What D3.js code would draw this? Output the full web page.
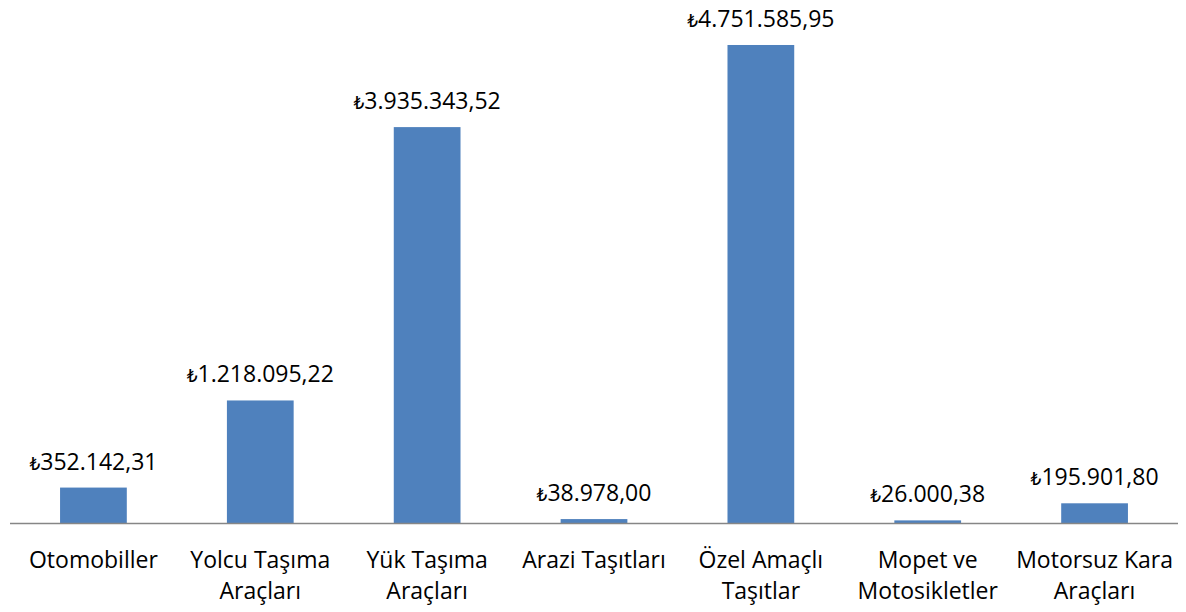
<!DOCTYPE html>
<html>
<head>
<meta charset="utf-8">
<script src="https://cdn.jsdelivr.net/npm/d3@7"></script>
<style>
  body { margin: 0; background: #fff; }
  text { font-family: "Open Sans", Lato, sans-serif; }
</style>
</head>
<body>
<div class="canvas-graph"></div>
<script>
const categories = [
    ['Otomobiller'],
    ['Yolcu Taşıma', 'Araçları'],
    ['Yük Taşıma', 'Araçları'],
    ['Arazi Taşıtları'],
    ['Özel Amaçlı', 'Taşıtlar'],
    ['Mopet ve', 'Motosikletler'],
    ['Motorsuz Kara', 'Araçları']
];
const values = [352142.31, 1218095.22, 3935343.52, 38978.00, 4751585.95, 26000.38, 195901.80];
const valueLabels = ['352.142,31', '1.218.095,22', '3.935.343,52', '38.978,00', '4.751.585,95', '26.000,38', '195.901,80'];

const dims = { width: 1186, height: 612 };
const plot = { left: 10, right: 1178, top: 20, bottom: 523 };

const svg = d3.select('.canvas-graph')
    .append('svg')
    .attr('width', dims.width)
    .attr('height', dims.height);

const x = d3.scaleBand()
    .domain(d3.range(values.length))
    .range([plot.left, plot.right])
    .paddingInner(0.6)
    .paddingOuter(0.3);

const y = d3.scaleLinear()
    .domain([0, 5000000])
    .range([plot.bottom, plot.top]);

svg.selectAll('rect.bar')
    .data(values)
    .enter()
    .append('rect')
    .attr('class', 'bar')
    .attr('x', (d, i) => x(i))
    .attr('y', d => y(d))
    .attr('width', x.bandwidth())
    .attr('height', d => y(0) - y(d))
    .attr('fill', '#4f81bd');

// baseline
svg.append('line')
    .attr('x1', plot.left)
    .attr('x2', plot.right)
    .attr('y1', y(0) + 0.5)
    .attr('y2', y(0) + 0.5)
    .attr('stroke', '#868686')
    .attr('stroke-width', 1.5);

// value labels
const vl = svg.selectAll('text.val')
    .data(values)
    .enter()
    .append('text')
    .attr('class', 'val')
    .attr('x', (d, i) => x(i) + x.bandwidth() / 2)
    .attr('y', d => y(d) - 18)
    .attr('text-anchor', 'middle')
    .attr('font-size', 23)
    .attr('fill', '#000');
vl.append('tspan')
    .attr('font-size', 17)
    .attr('font-family', 'DejaVu Sans')
    .text('₺');
vl.append('tspan')
    .text((d, i) => valueLabels[i]);

// category labels
const cl = svg.selectAll('text.cat')
    .data(categories)
    .enter()
    .append('text')
    .attr('class', 'cat')
    .attr('x', (d, i) => x(i) + x.bandwidth() / 2)
    .attr('y', 568)
    .attr('text-anchor', 'middle')
    .attr('font-size', 23)
    .attr('fill', '#000');
cl.selectAll('tspan')
    .data(d => d)
    .enter()
    .append('tspan')
    .attr('x', function() { return d3.select(this.parentNode).attr('x'); })
    .attr('dy', (d, i) => i === 0 ? 0 : 31)
    .text(d => d);
</script>
</body>
</html>
